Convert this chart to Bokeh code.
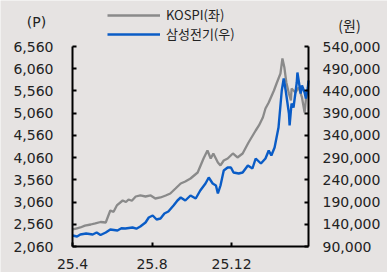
import pandas as pd
from bokeh.plotting import figure
from bokeh.models import (ColumnDataSource, LinearAxis, Range1d, FixedTicker,
                          CustomJSTickFormatter, Legend, LegendItem, Label,
                          NumeralTickFormatter)
from bokeh.embed import file_html
from bokeh.resources import INLINE

# ---- data ----
kospi_dates = ["2025-04-01", "2025-04-08", "2025-04-13", "2025-04-20", "2025-04-29",
               "2025-05-06", "2025-05-14", "2025-05-22", "2025-05-29", "2025-06-03",
               "2025-06-08", "2025-06-17", "2025-06-22", "2025-06-26", "2025-07-01",
               "2025-07-07", "2025-07-14", "2025-07-22", "2025-07-30", "2025-08-06",
               "2025-08-14", "2025-08-22", "2025-08-29", "2025-09-06", "2025-09-14",
               "2025-09-21", "2025-09-29", "2025-10-10", "2025-10-19", "2025-10-25",
               "2025-10-30", "2025-11-03", "2025-11-10", "2025-11-14", "2025-11-19",
               "2025-11-25", "2025-12-03", "2025-12-10", "2025-12-18", "2025-12-27",
               "2026-01-07", "2026-01-12", "2026-01-18", "2026-01-22", "2026-01-27",
               "2026-02-04", "2026-02-08", "2026-02-14", "2026-02-17", "2026-02-20",
               "2026-02-23", "2026-02-27", "2026-03-02", "2026-03-03", "2026-03-09",
               "2026-03-14", "2026-03-19", "2026-03-23", "2026-03-26", "2026-03-29"]
kospi = [2443, 2470, 2488, 2530, 2555,
         2580, 2611, 2600, 2870, 2840,
         2983, 3095, 3060, 3118, 3090,
         3185, 3208, 3185, 3208, 3140,
         3163, 3208, 3253, 3365, 3478,
         3523, 3590, 3725, 4040, 4220,
         4040, 4153, 3950, 3883, 3995,
         4040, 4153, 4063, 4153, 4400,
         4670, 4783, 4963, 5165, 5300,
         5570, 5728, 5953, 6290, 6088,
         5750, 5503, 5345, 5615, 5525,
         5638, 5413, 5075, 5503, 5525]

sem_dates = ["2025-04-01", "2025-04-08", "2025-04-13", "2025-04-22", "2025-05-02",
             "2025-05-08", "2025-05-14", "2025-05-22", "2025-05-29", "2025-06-09",
             "2025-06-15", "2025-06-21", "2025-07-02", "2025-07-08", "2025-07-14",
             "2025-07-22", "2025-07-27", "2025-08-02", "2025-08-08", "2025-08-14",
             "2025-08-20", "2025-08-26", "2025-09-03", "2025-09-09", "2025-09-14",
             "2025-09-21", "2025-09-29", "2025-10-07", "2025-10-14", "2025-10-22",
             "2025-10-27", "2025-11-02", "2025-11-07", "2025-11-10", "2025-11-14",
             "2025-11-19", "2025-11-25", "2025-11-30", "2025-12-04", "2025-12-12",
             "2025-12-18", "2025-12-26", "2026-01-02", "2026-01-07", "2026-01-15",
             "2026-01-22", "2026-01-27", "2026-01-31", "2026-02-05", "2026-02-11",
             "2026-02-16", "2026-02-19", "2026-02-22", "2026-02-27", "2026-02-28",
             "2026-03-03", "2026-03-06", "2026-03-11", "2026-03-12", "2026-03-17",
             "2026-03-19", "2026-03-23", "2026-03-25", "2026-03-28", "2026-03-29"]
semco = [114750, 112500, 117000, 119250, 117000,
         121500, 115875, 121500, 128250, 126000,
         131000, 130500, 132750, 130000, 135000,
         144000, 155250, 159750, 150750, 153000,
         164250, 168750, 182250, 193500, 200250,
         193500, 204750, 198000, 216000, 231750,
         245250, 231750, 227250, 209250, 227250,
         261000, 267750, 267750, 256500, 254250,
         256500, 272250, 265500, 288000, 276750,
         288000, 306000, 294750, 312750, 357750,
         441000, 468000, 441000, 389250, 362250,
         411750, 402750, 459000, 481500, 434250,
         452250, 436500, 423000, 447750, 463500]

tick_dates = ["2025-04-01", "2025-08-01", "2025-12-01"]
tick_labels = ["25.4", "25.8", "25.12"]
left_ticks = [2060, 2560, 3060, 3560, 4060, 4560, 5060, 5560, 6060, 6560]
right_ticks = [90000, 140000, 190000, 240000, 290000, 340000, 390000, 440000, 490000, 540000]
series_names = ["KOSPI(좌)", "삼성전기(우)"]
left_unit = "(P)"
right_unit = "(원)"

# ---- layout (pixels) ----
W, H = 387, 272
AX_L, AX_R, AX_T, AX_B = 72, 308, 46, 246   # axis box in pixels

BG = "#E6E3E2"
GRAY = "#8A8A8A"
BLUE = "#0A5CC6"
NUM_FONT = "DejaVu Sans"
KR_FONT = "Noto Sans CJK KR"

def ms(d):
    return pd.Timestamp(d).value / 1e6

x_start = ms("2025-04-01")
x_end = ms("2026-03-29")
span = (x_end - x_start) / (AX_R - AX_L)
xr = Range1d(x_start - span * AX_L, x_end + span * (W - AX_R))

def ext_range(lo, hi):
    per = (hi - lo) / (AX_B - AX_T)
    return Range1d(lo - per * (H - AX_B), hi + per * AX_T)

k_src = ColumnDataSource(dict(x=[ms(d) for d in kospi_dates], y=kospi))
s_src = ColumnDataSource(dict(x=[ms(d) for d in sem_dates], y=semco))

p = figure(width=W, height=H, output_backend="svg", toolbar_location=None,
           x_axis_type=None, y_axis_type=None,
           x_range=xr, y_range=ext_range(left_ticks[0], left_ticks[-1]),
           background_fill_color=BG, border_fill_color=BG,
           min_border=0)
p.outline_line_color = None
p.grid.visible = False
p.extra_y_ranges = {"right": ext_range(right_ticks[0], right_ticks[-1])}

l1 = p.line("x", "y", source=k_src, line_color=GRAY, line_width=2.3)
l2 = p.line("x", "y", source=s_src, line_color=BLUE, line_width=2.4,
            y_range_name="right")

def style_axis(ax):
    ax.axis_line_color = "black"
    ax.axis_line_width = 2
    ax.major_tick_line_color = "black"
    ax.major_tick_line_width = 2
    ax.major_tick_in = 4
    ax.major_tick_out = 0
    ax.minor_tick_line_color = None
    ax.major_label_text_font = NUM_FONT
    ax.major_label_text_font_size = "14px"
    ax.major_label_text_color = "#222222"

# left axis
yl = LinearAxis(fixed_location=x_start, bounds=(left_ticks[0], left_ticks[-1]))
yl.ticker = FixedTicker(ticks=left_ticks)
yl.formatter = NumeralTickFormatter(format="0,0")
style_axis(yl)
yl.major_label_standoff = 19
p.add_layout(yl, "left")

# right axis
yr = LinearAxis(y_range_name="right", fixed_location=x_end,
                bounds=(right_ticks[0], right_ticks[-1]))
yr.ticker = FixedTicker(ticks=right_ticks)
yr.formatter = NumeralTickFormatter(format="0,0")
style_axis(yr)
yr.major_label_standoff = 14
p.add_layout(yr, "right")

# bottom axis
tick_ms = [ms(d) for d in tick_dates]
xa = LinearAxis(fixed_location=left_ticks[0], bounds=(x_start, x_end))
xa.ticker = FixedTicker(ticks=tick_ms)
xa.formatter = CustomJSTickFormatter(
    args=dict(tks=tick_ms, lbls=tick_labels),
    code="const i = tks.indexOf(tick); return i >= 0 ? lbls[i] : '';")
style_axis(xa)
xa.major_label_standoff = 12
p.add_layout(xa, "below")

# unit labels
p.add_layout(Label(x=36, y=H - 21, x_units="screen", y_units="screen",
                   text=left_unit, text_font=NUM_FONT, text_font_size="14px",
                   text_color="#222222", text_align="center", text_baseline="middle"))
p.add_layout(Label(x=349, y=H - 24, x_units="screen", y_units="screen",
                   text=right_unit, text_font=KR_FONT, text_font_size="14px",
                   text_color="#222222", text_align="center", text_baseline="middle"))

legend = Legend(items=[LegendItem(label=series_names[0], renderers=[l1]),
                       LegendItem(label=series_names[1], renderers=[l2])],
                location=(107, H - 43))
legend.background_fill_alpha = 0
legend.border_line_color = None
legend.padding = 0
legend.margin = 0
legend.spacing = 0
legend.glyph_width = 53
legend.glyph_height = 18
legend.label_height = 18
legend.label_standoff = 6
legend.label_text_font = KR_FONT
legend.label_text_font_size = "13px"
legend.label_text_color = "#222222"
p.add_layout(legend, "center")

open("out.html", "w").write(file_html(p, INLINE))
